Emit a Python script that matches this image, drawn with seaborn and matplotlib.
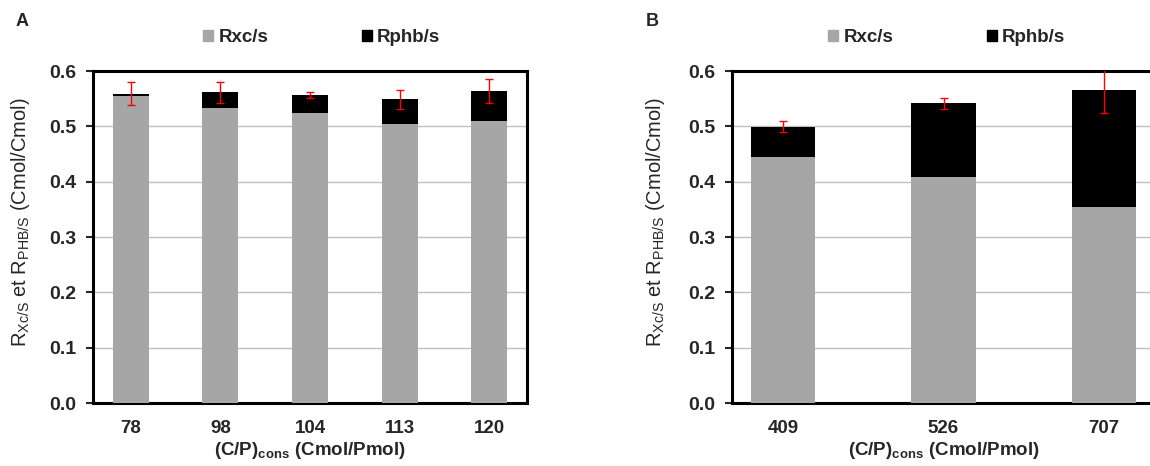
import pandas as pd
import matplotlib.pyplot as plt
import seaborn as sns
from matplotlib.patches import Patch

sns.set_style('white')
plt.rcParams['font.family'] = ['Liberation Sans', 'DejaVu Sans']
plt.rcParams['mathtext.fontset'] = 'custom'
plt.rcParams['mathtext.rm'] = 'Liberation Sans'
plt.rcParams['mathtext.bf'] = 'Liberation Sans:bold'

# panel A
cp_a = ['78', '98', '104', '113', '120']
rxc_a = [0.554, 0.534, 0.524, 0.504, 0.510]
total_a = [0.559, 0.562, 0.557, 0.549, 0.564]
err_a = [0.021, 0.019, 0.005, 0.017, 0.022]

# panel B
cp_b = ['409', '526', '707']
rxc_b = [0.445, 0.408, 0.354]
total_b = [0.499, 0.542, 0.565]
err_b = [0.010, 0.010, 0.040]

fig = plt.figure(figsize=(11.5, 4.66), dpi=100)
ax1 = fig.add_axes([93/1150, 63/466, 434/1150, 332/466])
ax2 = fig.add_axes([732/1150, 63/466, 423/1150, 332/466])


def panel(ax, cats, rxc, total, err, leg_x, lab_x):
    df = pd.DataFrame({'cp': cats, 'rxc': rxc, 'total': total})
    sns.barplot(data=df, x='cp', y='total', color='black', width=0.4,
                saturation=1, linewidth=0, ax=ax, zorder=2)
    sns.barplot(data=df, x='cp', y='rxc', color='#a6a6a6', width=0.4,
                saturation=1, linewidth=0, ax=ax, zorder=3)
    ax.errorbar(range(len(cats)), total, yerr=err, fmt='none', ecolor='red',
                elinewidth=1, capsize=3, capthick=1, zorder=4)
    ax.set_ylim(0, 0.6)
    ax.set_yticks([0, 0.1, 0.2, 0.3, 0.4, 0.5, 0.6])
    ax.set_yticklabels(['0.0', '0.1', '0.2', '0.3', '0.4', '0.5', '0.6'],
                       fontweight='bold', fontsize=14)
    ax.set_xticks(range(len(cats)))
    ax.set_xticklabels(cats, fontweight='bold', fontsize=13.5)
    ax.tick_params(axis='y', left=True, length=5, width=1.5, direction='out', pad=7)
    ax.tick_params(axis='x', bottom=False, pad=9)
    ax.yaxis.grid(True, color='#bfbfbf', linewidth=1, zorder=0)
    ax.set_axisbelow(True)
    for s in ax.spines.values():
        s.set_linewidth(2.2)
        s.set_color('black')
        s.set_visible(True)
    ax.set_xlabel(r'(C/P)$_{\mathbf{cons}}$ (Cmol/Pmol)', fontweight='bold',
                  fontsize=13.5, labelpad=2)
    ax.set_ylabel(r'R$_{\mathrm{Xc/S}}$ et R$_{\mathrm{PHB/S}}$ (Cmol/Cmol)',
                  fontsize=14.5)
    ax.yaxis.set_label_coords(lab_x, 0.545)
    handles = [Patch(color='#a6a6a6', label='Rxc/s'),
               Patch(color='black', label='Rphb/s')]
    ax.legend(handles=handles, loc='center', bbox_to_anchor=(leg_x, 1.10),
              ncol=2, frameon=False, handlelength=0.53, handleheight=0.53,
              handletextpad=0.27, columnspacing=5.0,
              prop={'weight': 'bold', 'size': 13.5})


panel(ax1, cp_a, rxc_a, total_a, err_a, 0.527, -0.14)
panel(ax2, cp_b, rxc_b, total_b, err_b, 0.508, -0.153)

fig.text(16/1150, 1 - 22/466, 'A', fontweight='bold', fontsize=13, va='center')
fig.text(646/1150, 1 - 22/466, 'B', fontweight='bold', fontsize=13, va='center')

plt.savefig('out.png', dpi=100)
